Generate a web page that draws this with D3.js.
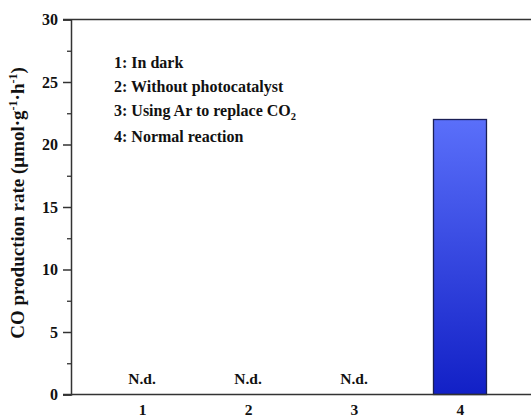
<!DOCTYPE html>
<html>
<head>
<meta charset="utf-8">
<script src="https://cdn.jsdelivr.net/npm/d3@7"></script>
<style>
  html, body { margin: 0; padding: 0; background: #fff; }
  svg text { font-family: "Liberation Serif", "Times New Roman", serif; font-weight: bold; fill: #111; }
</style>
</head>
<body>
<svg id="chart" width="531" height="417"></svg>
<script>
// Reaction conditions and measured CO production rates
const categories = [1, 2, 3, 4];
const rates = [0, 0, 0, 22.0];
const rateLabels = ["N.d.", "N.d.", "N.d.", ""];
const legendItems = ["1: In dark", "2: Without photocatalyst", "3: Using Ar to replace CO", "4: Normal reaction"];
const yTicks = [0, 5, 10, 15, 20, 25, 30];
const yMinorTicks = [2.5, 7.5, 12.5, 17.5, 22.5, 27.5];

const svg = d3.select("#chart");
const mLeft = 71, mTop = 19.5, mBottom = 394.5, mRight = 531;

const x = d3.scaleLinear().domain([0.33, 4.67]).range([mLeft, mRight]);
const y = d3.scaleLinear().domain([0, 30]).range([mBottom, mTop]);
const barW = x(1.5) - x(1);

// gradient for the bar
const defs = svg.append("defs");
const grad = defs.append("linearGradient").attr("id", "barGrad")
  .attr("x1", 0).attr("y1", 0).attr("x2", 0).attr("y2", 1);
grad.append("stop").attr("offset", "0%").attr("stop-color", "#5a6ffa");
grad.append("stop").attr("offset", "100%").attr("stop-color", "#1220c6");

// bars
const barData = categories.map((c, i) => ({ c, v: rates[i] })).filter(d => d.v > 0);
svg.selectAll("rect.bar").data(barData)
  .enter().append("rect").attr("class", "bar")
  .attr("x", d => x(d.c) - barW / 2)
  .attr("width", barW)
  .attr("y", d => y(d.v))
  .attr("height", d => y(0) - y(d.v))
  .attr("fill", "url(#barGrad)")
  .attr("stroke", "#1a1f55").attr("stroke-width", 1.3);

// top border line
svg.append("line").attr("x1", mLeft - 8).attr("x2", mRight)
  .attr("y1", mTop).attr("y2", mTop).attr("stroke", "#333").attr("stroke-width", 1.5);

// y axis
const yAxis = d3.axisLeft(y).tickValues(yTicks).tickSize(8).tickPadding(5).tickFormat(d3.format("d"));
const gy = svg.append("g").attr("transform", `translate(${mLeft},0)`).call(yAxis);
gy.attr("font-family", null).attr("font-size", null);
gy.select(".domain").attr("stroke", "#333").attr("stroke-width", 1.5);
gy.selectAll(".tick line").attr("stroke", "#333").attr("stroke-width", 1.5);
gy.selectAll(".tick text").style("font-size", "16px");

const gyMinor = svg.append("g").attr("transform", `translate(${mLeft},0)`)
  .call(d3.axisLeft(y).tickValues(yMinorTicks).tickSize(4).tickFormat(""));
gyMinor.select(".domain").remove();
gyMinor.selectAll(".tick line").attr("stroke", "#333").attr("stroke-width", 1.3);

// x axis
const xAxis = d3.axisBottom(x).tickValues(categories).tickSize(0).tickPadding(9).tickFormat(d3.format("d"));
const gx = svg.append("g").attr("transform", `translate(0,${mBottom})`).call(xAxis);
gx.attr("font-family", null).attr("font-size", null);
gx.select(".domain").attr("d", `M${mLeft - 8},0H${mRight}`).attr("stroke", "#333").attr("stroke-width", 1.5);
gx.selectAll(".tick text").style("font-size", "15.5px");

// value annotations
svg.selectAll("text.nd").data(categories.map((c, i) => ({ c, t: rateLabels[i] })).filter(d => d.t))
  .enter().append("text").attr("class", "nd")
  .attr("x", d => x(d.c)).attr("y", y(0) - 10.5)
  .attr("text-anchor", "middle").style("font-size", "15.5px")
  .text(d => d.t);

// legend text
const legendY = [68, 92, 116, 142];
const lg = svg.append("g");
legendItems.forEach((t, i) => {
  const tx = lg.append("text").attr("x", 114).attr("y", legendY[i]).style("font-size", "16px").text(t);
  if (i === 2) tx.append("tspan").attr("dy", 4).style("font-size", "10.5px").text("2");
});

// y axis title
const title = svg.append("text")
  .attr("transform", `translate(24,203) rotate(-90)`)
  .attr("text-anchor", "middle").style("font-size", "19px");
title.append("tspan").text("CO production rate (\u03bcmol\u00b7g");
title.append("tspan").attr("dy", -7).style("font-size", "12px").text("-1");
title.append("tspan").attr("dy", 7).text("\u00b7h");
title.append("tspan").attr("dy", -7).style("font-size", "12px").text("-1");
title.append("tspan").attr("dy", 7).text(")");
</script>
</body>
</html>
